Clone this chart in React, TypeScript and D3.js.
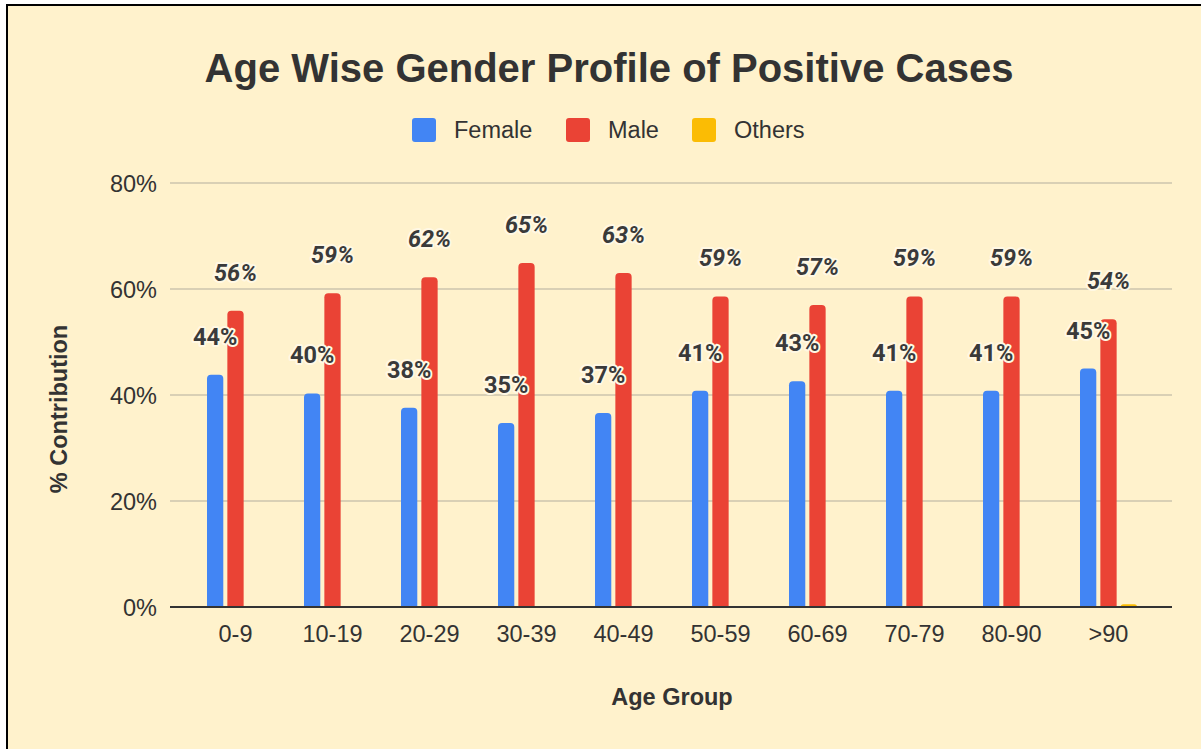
import React from "react";
import * as d3 from "d3";

const categories = ["0-9", "10-19", "20-29", "30-39", "40-49", "50-59", "60-69", "70-79", "80-90", ">90"];
const female = [43.8, 40.3, 37.6, 34.7, 36.6, 40.8, 42.6, 40.8, 40.8, 45.0];
const male = [55.9, 59.2, 62.2, 64.9, 63.0, 58.6, 57.0, 58.6, 58.6, 54.3];
const others = [0, 0, 0, 0, 0, 0, 0, 0, 0, 0.5];
const seriesNames = ["Female", "Male", "Others"];
const seriesColors = ["#4285F4", "#EA4335", "#FBBC04"];
const yTicks = [0, 20, 40, 60, 80];

const W = 1201;
const H = 749;
const BG = "#FFF2CC";
const TXT = "#333333";
const FONT = "Liberation Sans, Arial, sans-serif";

function topRounded(x: number, y: number, w: number, h: number, r: number) {
  if (h <= 0) return "";
  const rr = Math.min(r, h, w / 2);
  return `M${x},${y + h}V${y + rr}Q${x},${y} ${x + rr},${y}H${x + w - rr}Q${x + w},${y} ${x + w},${y + rr}V${y + h}Z`;
}

export default function App() {
  const plotL = 170, plotR = 1172, plotT = 183, plotB = 607;
  const y = d3.scaleLinear().domain([0, 80]).range([plotB, plotT]);
  const x0 = d3.scaleBand<string>().domain(categories).range([187, 1157]);
  const x1 = d3.scaleBand<string>().domain(seriesNames).range([-28.5, 28.5]).paddingInner(0.2);
  const data = [female, male, others];

  return (
    <svg width={W} height={H} style={{ position: "absolute", left: 0, top: 0 }}
      xmlns="http://www.w3.org/2000/svg">
      <rect x={0} y={0} width={W} height={H} fill="#ffffff" />
      <rect x={7} y={5} width={W + 10} height={H + 10} fill={BG} stroke="#000" strokeWidth={2} />
      <text x={609} y={82} textAnchor="middle" fontFamily={FONT}
        fontWeight="bold" fontSize={40} fill={TXT}>Age Wise Gender Profile of Positive Cases</text>

      {/* legend */}
      {seriesNames.map((s, i) => {
        const lx = [412, 566, 692][i];
        return (
          <g key={s}>
            <rect x={lx} y={118} width={24} height={24} rx={3} fill={seriesColors[i]} />
            <text x={lx + 42} y={138} fontFamily={FONT} fontSize={23.5} fill={TXT}>{s}</text>
          </g>
        );
      })}

      {/* gridlines */}
      {yTicks.map((t) => (
        <g key={t}>
          {t !== 0 && <line x1={plotL} x2={plotR} y1={y(t)} y2={y(t)} stroke="#CCC5AE" strokeWidth={1.5} />}
          <text x={157} y={y(t) + 8.5} textAnchor="end" fontFamily={FONT}
            fontSize={23.5} fill={TXT}>{t}%</text>
        </g>
      ))}

      {/* bars */}
      {categories.map((c, ci) => (
        <g key={c} transform={`translate(${(x0(c) as number) + x0.bandwidth() / 2},0)`}>
          {seriesNames.map((s, si) => {
            const v = data[si][ci];
            const bx = x1(s) as number;
            return (
              <path key={s} d={topRounded(bx, y(v), x1.bandwidth(), y(0) - y(v), 4)} fill={seriesColors[si]} />
            );
          })}
        </g>
      ))}

      <line x1={plotL} x2={plotR} y1={plotB} y2={plotB} stroke="#333" strokeWidth={2} />

      {/* data labels */}
      {categories.map((c, ci) => (
        <g key={c} transform={`translate(${(x0(c) as number) + x0.bandwidth() / 2},0)`}>
          {[0, 1].map((si) => {
            const v = data[si][ci];
            const s = seriesNames[si];
            const cx = (x1(s) as number) + x1.bandwidth() / 2;
            return (
              <text key={s} x={cx} y={y(v) - 30} textAnchor="middle" fontFamily="Roboto, sans-serif"
                fontWeight="bold" fontStyle={si === 1 ? "italic" : "normal"} fontSize={23.5} fill="#3a3a3a"
                stroke="#FFF8E4" strokeWidth={4} strokeLinejoin="round" style={{ paintOrder: "stroke" }}>
                {Math.round(v)}%
              </text>
            );
          })}
        </g>
      ))}

      {/* category labels */}
      {categories.map((c) => (
        <text key={c} x={(x0(c) as number) + x0.bandwidth() / 2} y={642} textAnchor="middle"
          fontFamily={FONT} fontSize={23.5} fill={TXT}>{c}</text>
      ))}

      <text x={672} y={705} textAnchor="middle" fontFamily={FONT}
        fontWeight="bold" fontSize={23.5} fill={TXT}>Age Group</text>
      <text transform={`translate(67,409) rotate(-90)`} textAnchor="middle"
        fontFamily={FONT} fontWeight="bold" fontSize={23.5} fill={TXT}>% Contribution</text>
    </svg>
  );
}
